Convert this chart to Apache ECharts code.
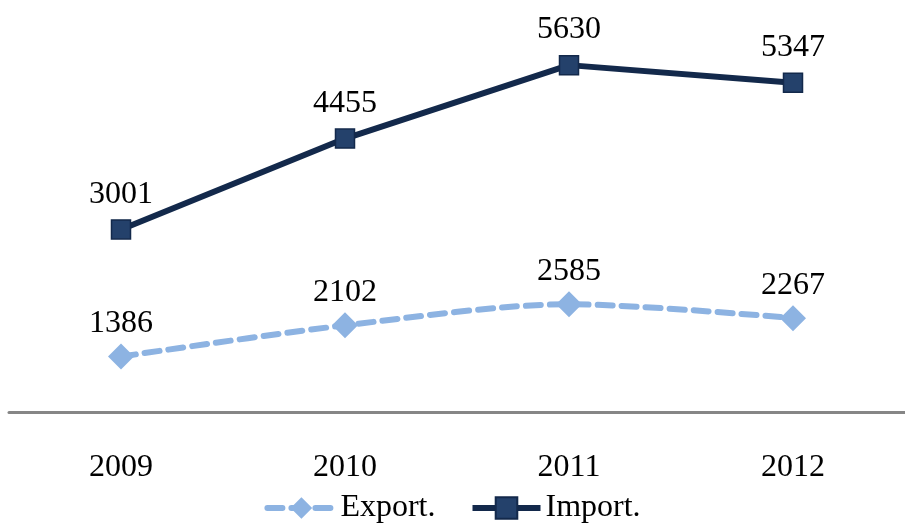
<!DOCTYPE html>
<html><head><meta charset="utf-8">
<script src="https://cdn.jsdelivr.net/npm/echarts@6/dist/echarts.min.js"></script>
<style>html,body{margin:0;padding:0;background:#fff}#c{width:905px;height:523px}</style>
</head><body><div id="c"></div>
<script>
const categories = ['2009', '2010', '2011', '2012'];
const exportValues = [1386, 2102, 2585, 2267];
const importValues = [3001, 4455, 5630, 5347];
const seriesNames = ['Export.', 'Import.'];

const font = '"Liberation Serif", "Times New Roman", serif';
const chart = echarts.init(document.getElementById('c'));
chart.setOption({
  animation: false,
  backgroundColor: '#fff',
  grid: { left: 9, right: -4, top: 42, bottom: 106 },
  legend: {
    bottom: -6, left: 'center',
    itemWidth: 68, itemHeight: 27, itemGap: 34,
    textStyle: { fontFamily: font, fontSize: 32, color: '#000' },
    lineStyle: { width: 6 },
    data: seriesNames
  },
  xAxis: {
    type: 'category', data: categories, offset: -5,
    axisLine: { lineStyle: { color: '#868686', width: 3 } },
    axisTick: { show: false },
    axisLabel: { fontFamily: font, fontSize: 32, color: '#000', margin: 40 }
  },
  yAxis: [
    { type: 'value', min: 0, max: 8600, show: false, splitLine: { show: false } },
    { type: 'value', min: 0, max: 6000, show: false, splitLine: { show: false } }
  ],
  series: [
    {
      name: seriesNames[0], type: 'line', data: exportValues, yAxisIndex: 0,
      smooth: 0.3, symbol: 'diamond', symbolSize: 26,
      lineStyle: { color: '#8DB3E2', width: 6, type: [15, 9], cap: 'round' },
      itemStyle: { color: '#8DB3E2' },
      label: { show: true, position: 'top', distance: 4, fontFamily: font, fontSize: 32, color: '#000' }
    },
    {
      name: seriesNames[1], type: 'line', data: importValues, yAxisIndex: 1,
      symbol: 'rect', symbolSize: 19,
      lineStyle: { color: '#13294B', width: 6 },
      itemStyle: { color: '#24416B', borderColor: '#13294B', borderWidth: 1.5 },
      label: { show: true, position: 'top', distance: 9, fontFamily: font, fontSize: 32, color: '#000' }
    }
  ]
});
</script></body></html>
